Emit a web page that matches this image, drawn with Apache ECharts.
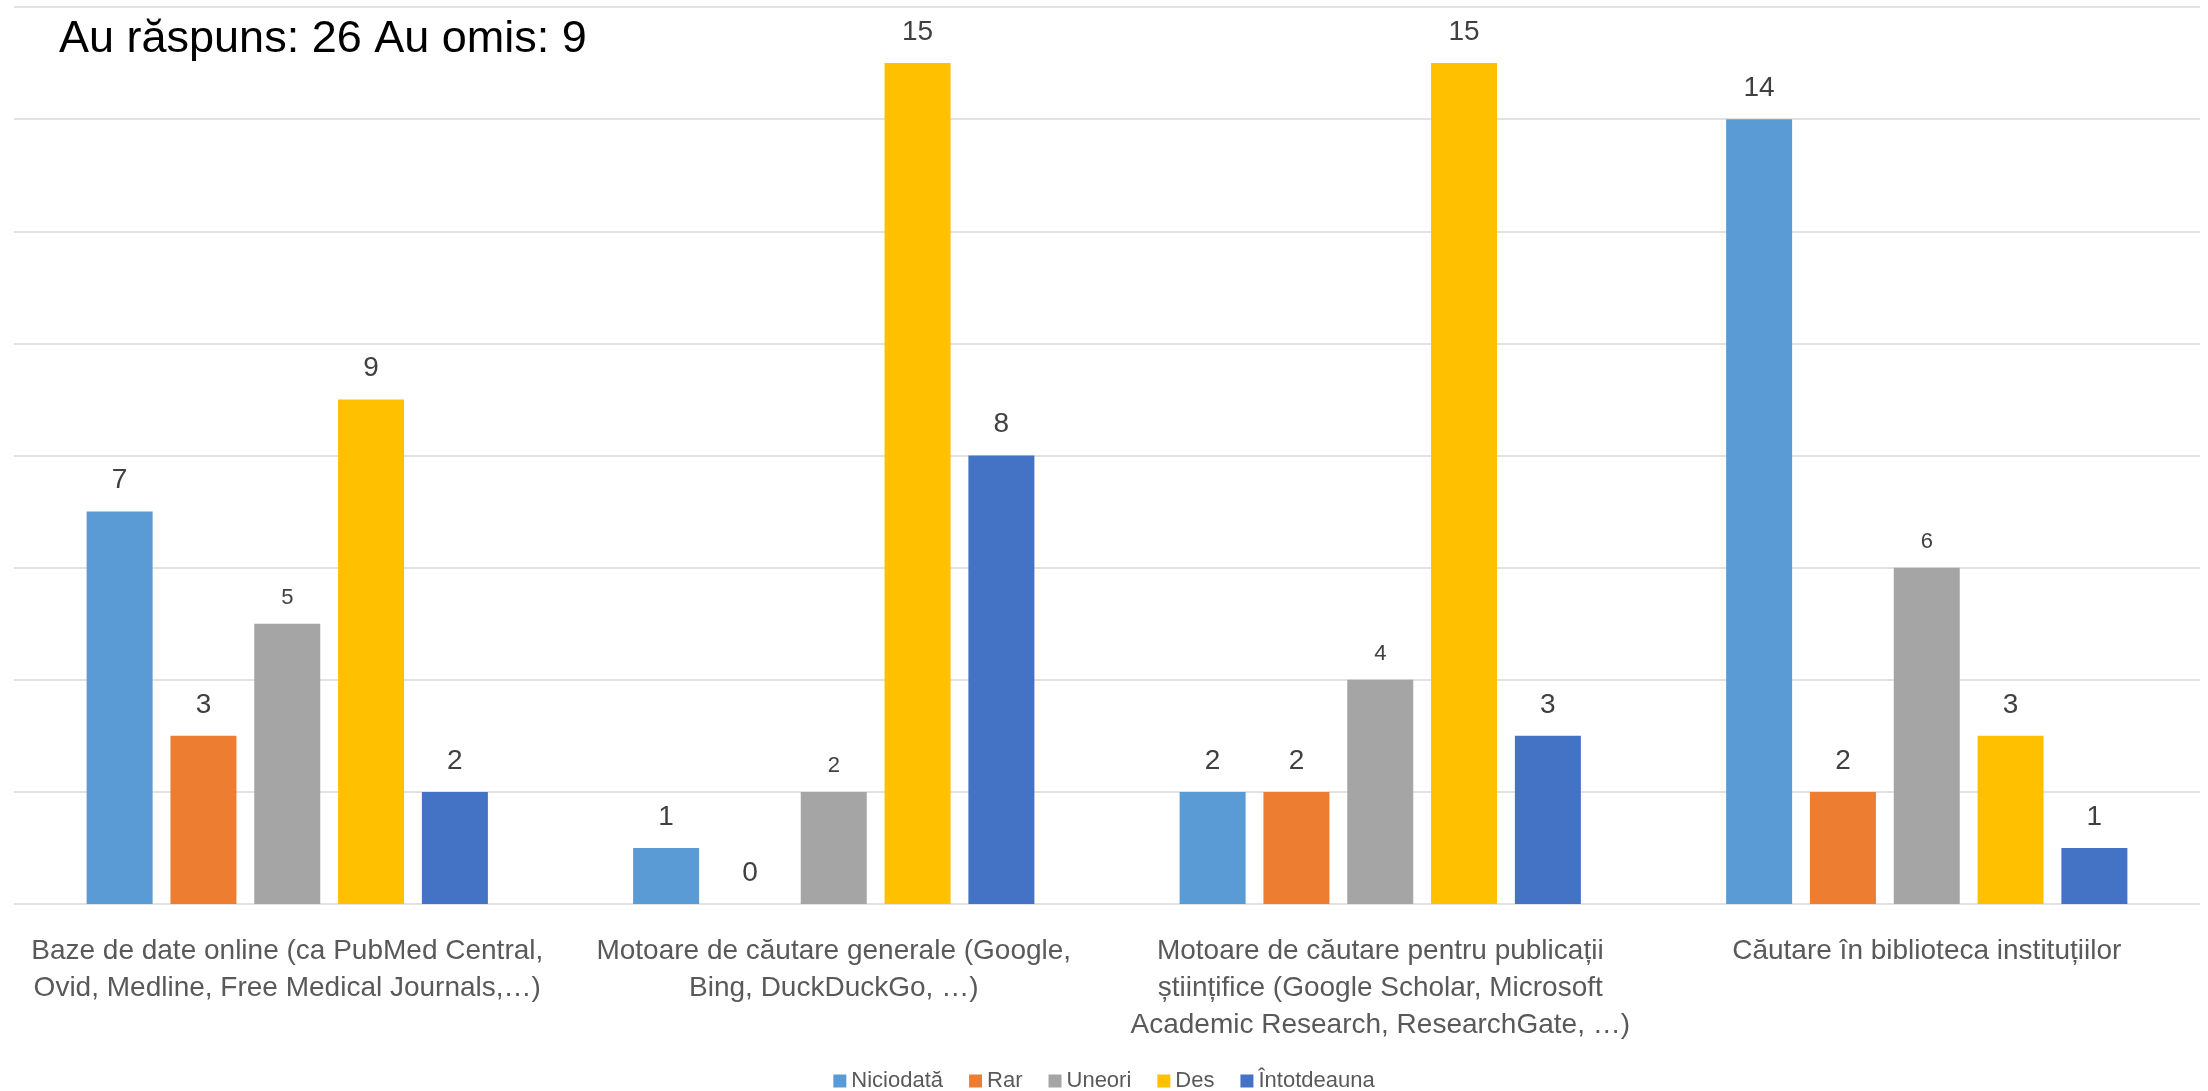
<!DOCTYPE html>
<html>
<head>
<meta charset="utf-8">
<script src="https://cdn.jsdelivr.net/npm/echarts@6/dist/echarts.min.js"></script>
<style>
  html, body { margin: 0; padding: 0; background: #ffffff; }
  #chart { width: 2208px; height: 1091px; }
</style>
</head>
<body>
<div id="chart"></div>
<script>
const titleText = 'Au răspuns: 26 Au omis: 9';
const categories = [
  'Baze de date online (ca PubMed Central,\nOvid, Medline, Free Medical Journals,…)',
  'Motoare de căutare generale (Google,\nBing, DuckDuckGo, …)',
  'Motoare de căutare pentru publicații\nștiințifice (Google Scholar, Microsoft\nAcademic Research, ResearchGate, …)',
  'Căutare în biblioteca instituțiilor'
];
const seriesNames = ['Niciodată', 'Rar', 'Uneori', 'Des', 'Întotdeauna'];
const niciodata   = [7, 1, 2, 14];
const rar         = [3, 0, 2, 2];
const uneori      = [5, 2, 4, 6];
const des         = [9, 15, 15, 3];
const intotdeauna = [2, 8, 3, 1];
const seriesValues = [niciodata, rar, uneori, des, intotdeauna];
const colors = ['#5B9BD5', '#ED7D31', '#A5A5A5', '#FFC000', '#4472C4'];
const labelSizes = [28, 28, 22, 28, 28];

const FONT = "'Liberation Sans', Arial, sans-serif";

const chart = echarts.init(document.getElementById('chart'), null, { renderer: 'canvas' });

const series = seriesNames.map((name, i) => ({
  name: name,
  type: 'bar',
  data: seriesValues[i],
  barWidth: 66,
  barGap: '27%',
  itemStyle: { color: colors[i] },
  label: {
    show: true,
    position: 'top',
    distance: labelSizes[i] === 28 ? 17 : 15,
    color: '#404040',
    fontFamily: FONT,
    fontSize: labelSizes[i]
  },
  emphasis: { disabled: true }
}));

chart.setOption({
  animation: false,
  backgroundColor: '#ffffff',
  color: colors,
  title: {
    text: titleText,
    left: 54,
    top: 12,
    textStyle: { color: '#000000', fontFamily: FONT, fontSize: 45, fontWeight: 'normal' }
  },
  legend: {
    data: seriesNames,
    top: 1065,
    left: 'center',
    itemWidth: 13,
    itemHeight: 13,
    itemGap: 26,
    icon: 'rect',
    textStyle: { color: '#595959', fontFamily: FONT, fontSize: 22 }
  },
  grid: { left: 14, right: 8, top: 7, bottom: 187, containLabel: false },
  xAxis: {
    type: 'category',
    data: categories,
    axisLine: { show: false },
    axisTick: { show: false },
    axisLabel: {
      interval: 0,
      margin: 29,
      color: '#595959',
      fontFamily: FONT,
      fontSize: 28,
      lineHeight: 37,
      align: 'center'
    }
  },
  yAxis: {
    type: 'value',
    min: 0,
    max: 16,
    interval: 2,
    axisLabel: { show: false },
    axisLine: { show: false },
    axisTick: { show: false },
    splitLine: { lineStyle: { color: '#D9D9D9', width: 1.5 } }
  },
  series: series
});
</script>
</body>
</html>
